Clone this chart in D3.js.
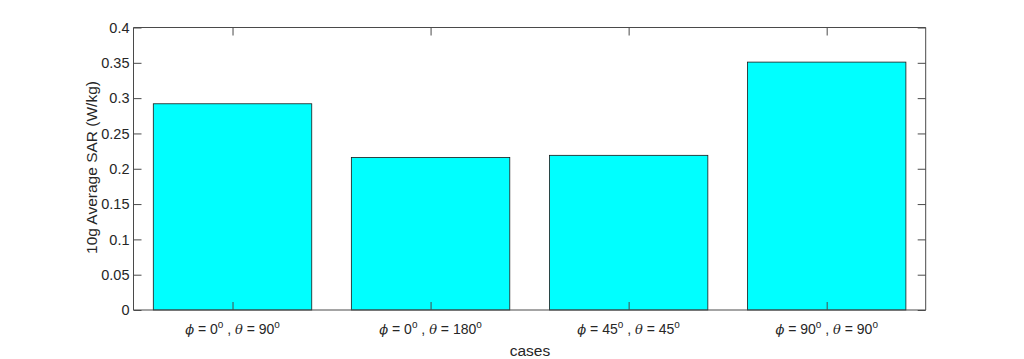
<!DOCTYPE html>
<html><head><meta charset="utf-8">
<script src="https://cdn.jsdelivr.net/npm/d3@7"></script>
<style>body{margin:0;background:#fff;} svg{display:block;}</style>
</head><body>
<svg id="c" width="1024" height="359"></svg>
<script>
const phiVals = ["0", "0", "45", "90"];
const thetaVals = ["90", "180", "45", "90"];
const values = [0.292, 0.216, 0.219, 0.351];
const yTicks = [0, 0.05, 0.1, 0.15, 0.2, 0.25, 0.3, 0.35, 0.4];
const xLabel = "cases";
const yLabel = "10g Average SAR (W/kg)";

const svg = d3.select("#c");
const L = 133.5, R = 925.7, T = 27.5, B = 310;
const font = "'Liberation Sans', Arial, Helvetica, sans-serif";
const axisCol = "#4a4a4a", textCol = "#262626";

const idx = d3.range(values.length);
const x = d3.scaleLinear().domain([0.5, values.length + 0.5]).range([L, R]);
const y = d3.scaleLinear().domain([0, 0.4]).range([B, T]);

// bars
svg.append("g").selectAll("rect").data(idx).join("rect")
  .attr("x", i => x(i + 1 - 0.4))
  .attr("width", i => x(i + 1 + 0.4) - x(i + 1 - 0.4))
  .attr("y", i => y(values[i]))
  .attr("height", i => y(0) - y(values[i]))
  .attr("fill", "#00ffff")
  .attr("stroke", "#1a1a1a")
  .attr("stroke-width", 0.8);

// axes (box with mirrored ticks)
const tl = 8;
const gLeft = svg.append("g").attr("transform", `translate(${L},0)`)
  .call(d3.axisLeft(y).tickValues(yTicks).tickSize(-tl).tickPadding(4).tickFormat(d => String(+d.toFixed(2))));
const gRight = svg.append("g").attr("transform", `translate(${R},0)`)
  .call(d3.axisRight(y).tickValues(yTicks).tickSize(-tl).tickFormat(""));
const gBottom = svg.append("g").attr("transform", `translate(0,${B})`)
  .call(d3.axisBottom(x).tickValues(idx.map(i => i + 1)).tickSize(-tl).tickFormat(""));
const gTop = svg.append("g").attr("transform", `translate(0,${T})`)
  .call(d3.axisTop(x).tickValues(idx.map(i => i + 1)).tickSize(-tl).tickFormat(""));

[gLeft, gRight, gBottom, gTop].forEach(g => {
  g.selectAll("path.domain").attr("stroke", axisCol).attr("stroke-width", 1);
  g.selectAll(".tick line").attr("stroke", axisCol).attr("stroke-width", 1);
});
gLeft.selectAll("path.domain").attr("d", `M0,${B}V${T}`);
gRight.selectAll("path.domain").attr("d", `M0,${B}V${T}`);
gBottom.selectAll("path.domain").attr("d", `M${L},0H${R}`);
gTop.selectAll("path.domain").attr("d", `M${L},0H${R}`);
gLeft.attr("font-size", null).attr("font-family", null);
gLeft.selectAll(".tick text").attr("font-family", font).style("font-size", "14.5px").attr("fill", textCol);

// x tick labels with TeX-like italics and superscripts
const xl = svg.append("g").selectAll("text").data(idx).join("text")
  .attr("x", i => x(i + 1))
  .attr("y", 334)
  .attr("text-anchor", "middle")
  .attr("font-family", font)
  .style("font-size", "14px")
  .attr("fill", textCol);
xl.each(function(i) {
  const t = d3.select(this);
  t.append("tspan").attr("font-style", "italic").attr("font-family", "'DejaVu Serif', serif").style("font-size", "13px").text("\u03D5");
  t.append("tspan").text(" = " + phiVals[i]);
  t.append("tspan").attr("dy", -6).style("font-size", "10px").text("o");
  t.append("tspan").attr("dy", 6).text(" , ");
  t.append("tspan").attr("font-style", "italic").attr("font-family", "'DejaVu Serif', serif").style("font-size", "13px").text("\u03B8");
  t.append("tspan").text(" = " + thetaVals[i]);
  t.append("tspan").attr("dy", -6).style("font-size", "10px").text("o");
});

// axis labels
svg.append("text").attr("x", 530).attr("y", 356)
  .attr("text-anchor", "middle").attr("font-family", font).style("font-size", "15.5px").attr("fill", textCol).text(xLabel);
svg.append("text").attr("transform", `translate(97,167.5) rotate(-90)`)
  .attr("text-anchor", "middle").attr("font-family", font).style("font-size", "15.5px").attr("fill", textCol).text(yLabel);
</script>
</body></html>
